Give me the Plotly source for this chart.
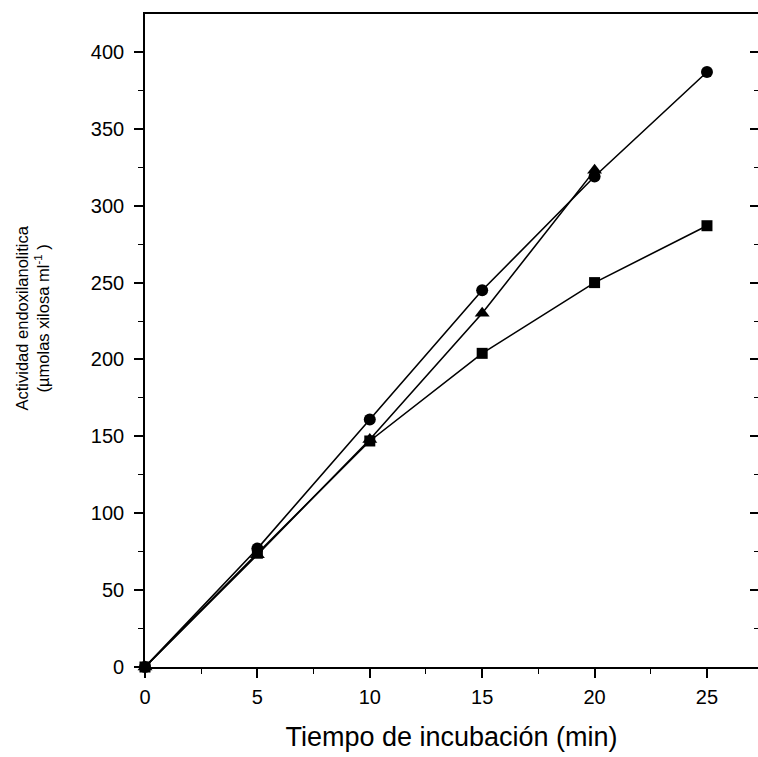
import plotly.graph_objects as go

# Incubation time (min)
tiempo = [0, 5, 10, 15, 20, 25]
tiempo_tri = [0, 5, 10, 15, 20]

# Endoxylanolytic activity (µmol xylose / ml)
act_circulo = [0, 77, 161, 245, 319, 387]
act_triangulo = [0, 73, 148, 230, 323]
act_cuadrado = [0, 74, 147, 204, 250, 287]

x_ticks = [0, 5, 10, 15, 20, 25]
y_ticks = [0, 50, 100, 150, 200, 250, 300, 350, 400]

FONT = "Liberation Sans, Arial, sans-serif"
LINE = dict(color="black", width=1.6)
TICKFONT = dict(family=FONT, size=20, color="black")

fig = go.Figure()

series = [
    (tiempo, act_circulo, "circle", 12),
    (tiempo_tri, act_triangulo, "triangle-up", 13),
    (tiempo, act_cuadrado, "square", 11),
]
for xs, ys, sym, size in series:
    fig.add_trace(go.Scatter(
        x=xs, y=ys, mode="lines+markers",
        line=LINE,
        marker=dict(symbol=sym, size=size, color="black",
                    line=dict(width=0)),
        cliponaxis=False, showlegend=False,
    ))

# invisible trace that carries the right-hand axis
fig.add_trace(go.Scatter(x=[0], y=[0], yaxis="y2", mode="markers",
                         marker=dict(opacity=0), showlegend=False,
                         hoverinfo="skip"))

fig.update_layout(
    width=758, height=757,
    margin=dict(l=145, r=0, t=14, b=90),
    paper_bgcolor="white", plot_bgcolor="white",
    xaxis=dict(
        range=[0, 27.27], tickvals=x_ticks,
        showgrid=False, zeroline=False,
        linecolor="black", linewidth=1.6,
        tickcolor="black", tickwidth=1.6, tickfont=TICKFONT,
        ticks="outside", ticklen=9, showline=True, mirror=True,
        ticklabelstandoff=2,
        minor=dict(dtick=2.5, tick0=0, ticks="outside", ticklen=5,
                   tickcolor="black", tickwidth=1.4),
        title=dict(text="Tiempo de incubación (min)",
                   font=dict(family=FONT, size=27, color="black"),
                   standoff=20),
    ),
    yaxis=dict(
        range=[0, 424.7], tickvals=y_ticks,
        showgrid=False, zeroline=False,
        linecolor="black", linewidth=1.6,
        tickcolor="black", tickwidth=1.6, tickfont=TICKFONT,
        ticks="outside", ticklen=9, showline=True, mirror=False,
        ticklabelstandoff=6,
        minor=dict(dtick=25, tick0=0, ticks="outside", ticklen=5,
                   tickcolor="black", tickwidth=1.4),
    ),
    yaxis2=dict(
        overlaying="y", side="right", range=[0, 424.7],
        tickvals=y_ticks, showticklabels=False,
        ticks="inside", ticklen=8, tickcolor="black", tickwidth=1.6,
        minor=dict(dtick=25, tick0=0, ticks="inside", ticklen=4,
                   tickcolor="black", tickwidth=1.4),
        showline=False, showgrid=False, zeroline=False,
    ),
)

fig.add_annotation(
    text="Actividad endoxilanolitica<br>(µmolas xilosa ml<sup>-1</sup> )",
    xref="paper", yref="paper", x=-0.184, y=0.534,
    xanchor="center", yanchor="middle", textangle=-90,
    showarrow=False, align="center",
    font=dict(family=FONT, size=16.5, color="black"),
)

fig.write_html("out.html")
